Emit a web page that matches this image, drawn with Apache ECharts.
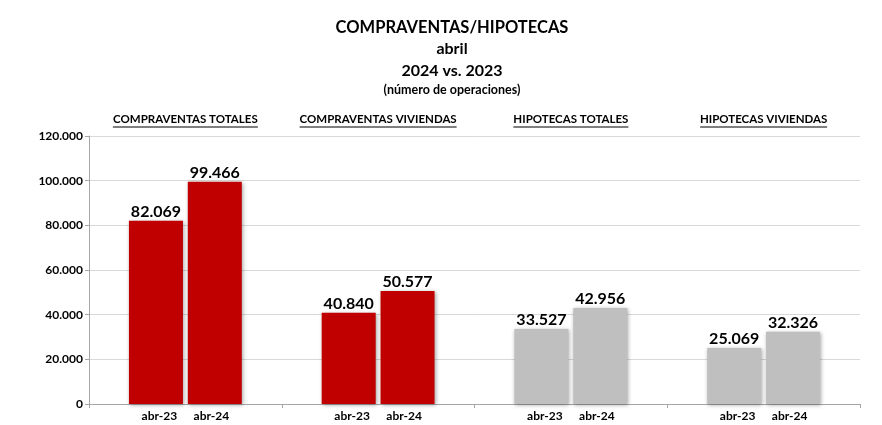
<!DOCTYPE html>
<html>
<head>
    <meta charset="utf-8">
    <title>Compraventas/Hipotecas</title>
    <style>
        html, body { margin: 0; padding: 0; background: #ffffff; }
        #chart { width: 882px; height: 425px; }
    </style>
</head>
<body>
    <div id="chart"></div>
    <script src="https://cdn.jsdelivr.net/npm/echarts@6/dist/echarts.min.js"></script>
    <script>
        // datos
        var grupos = ['COMPRAVENTAS TOTALES', 'COMPRAVENTAS VIVIENDAS', 'HIPOTECAS TOTALES', 'HIPOTECAS VIVIENDAS'];
        var periodos = ['abr-23', 'abr-24'];
        var abr23 = [82069, 40840, 33527, 25069];
        var abr24 = [99466, 50577, 42956, 32326];

        var FONT = "Lato, 'Noto Sans', sans-serif";
        var ROJO = '#c00000';
        var GRIS = '#bfbfbf';
        var CENTRO = 447;

        function puntos(v) {
            return String(v).replace(/\B(?=(\d{3})+(?!\d))/g, '.');
        }

        // medir el texto para el subrayado
        var ctx = document.createElement('canvas').getContext('2d');
        ctx.font = 'bold 11.5px ' + FONT;
        var rich = { t: { fontSize: 11.5, fontWeight: 'bold', fontFamily: FONT, color: '#000', lineHeight: 13 } };
        grupos.forEach(function (g, i) {
            rich['u' + i] = { width: Math.round(ctx.measureText(g).width), height: 1, lineHeight: 2, backgroundColor: '#000' };
        });

        function colorBarra(p) {
            return p.dataIndex < 2 ? ROJO : GRIS;
        }

        function serie(nombre, datos) {
            return {
                name: nombre,
                type: 'bar',
                data: datos,
                barWidth: 54,
                barGap: '9%',
                itemStyle: {
                    color: colorBarra,
                    shadowBlur: 4,
                    shadowColor: 'rgba(0,0,0,0.35)',
                    shadowOffsetX: 1,
                    shadowOffsetY: 1
                },
                label: {
                    show: true,
                    position: 'top',
                    distance: 1,
                    fontFamily: FONT,
                    fontWeight: 'bold',
                    fontSize: 16,
                    color: '#000',
                    formatter: function (p) { return puntos(p.value); }
                }
            };
        }

        function titulo(texto, top, size) {
            return {
                text: texto,
                left: CENTRO,
                textAlign: 'center',
                top: top,
                textStyle: { fontFamily: FONT, fontWeight: 'bold', fontSize: size, color: '#000' }
            };
        }

        var myChart = echarts.init(document.getElementById('chart'));
        var option = {
            backgroundColor: '#ffffff',
            animation: false,
            title: [
                titulo('COMPRAVENTAS/HIPOTECAS', 14, 16.5),
                titulo('abril', 36, 16),
                titulo('2024 vs. 2023', 58, 16),
                titulo('(número de operaciones)', 78, 12.5)
            ],
            grid: { left: 89, right: 22, top: 136, bottom: 21, containLabel: false },
            xAxis: [{
                type: 'category',
                data: grupos,
                position: 'bottom',
                axisLine: { lineStyle: { color: '#a6a6a6' } },
                axisTick: { show: true, length: 4, lineStyle: { color: '#a6a6a6' } },
                axisLabel: {
                    margin: 6,
                    interval: 0,
                    formatter: function () { return '{a|' + periodos[0] + '}{b|' + periodos[1] + '}'; },
                    rich: {
                        a: { width: 52, align: 'center', fontFamily: FONT, fontWeight: 'bold', fontSize: 12, color: '#000' },
                        b: { width: 52, align: 'center', fontFamily: FONT, fontWeight: 'bold', fontSize: 12, color: '#000' }
                    }
                }
            }, {
                type: 'category',
                data: grupos,
                position: 'top',
                axisLine: { show: false },
                axisTick: { show: false },
                axisLabel: {
                    margin: 8,
                    interval: 0,
                    formatter: function (v, i) { return '{t|' + v + '}\n{u' + i + '|}'; },
                    rich: rich
                }
            }],
            yAxis: {
                type: 'value',
                min: 0,
                max: 120000,
                interval: 20000,
                axisLine: { show: true, lineStyle: { color: '#a6a6a6' } },
                axisTick: { show: true, length: 4, lineStyle: { color: '#a6a6a6' } },
                splitLine: { lineStyle: { color: '#d9d9d9' } },
                axisLabel: {
                    margin: 6,
                    fontFamily: FONT,
                    fontWeight: 'bold',
                    fontSize: 12,
                    color: '#000',
                    formatter: function (v) { return puntos(v); }
                }
            },
            series: [serie(periodos[0], abr23), serie(periodos[1], abr24)]
        };
        myChart.setOption(option);
    </script>
</body>
</html>
